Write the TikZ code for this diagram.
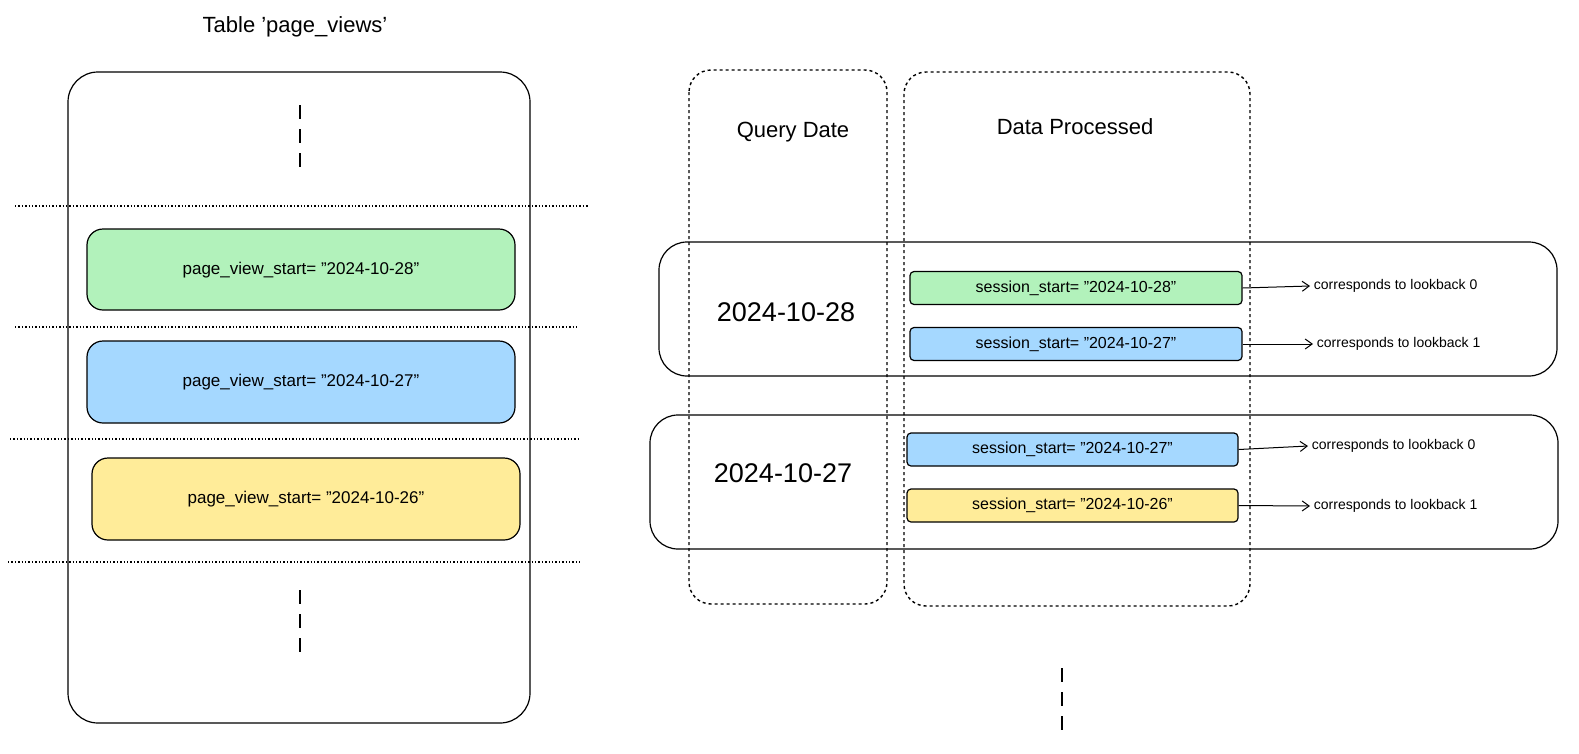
\documentclass[tikz,border=0pt]{standalone}
\usepackage{fontspec}
\setmainfont{Liberation Sans}
\usetikzlibrary{arrows.meta}
\definecolor{cg}{HTML}{B2F2BB}
\definecolor{cb}{HTML}{A5D8FF}
\definecolor{cy}{HTML}{FFEC99}
\begin{document}
\begin{tikzpicture}[x=1pt,y=-1pt,line width=1.2pt,
 bigbox/.style={draw,rounded corners=16pt,fill=#1,font=\fontsize{17}{20}\selectfont},
 smallbox/.style={draw,rounded corners=4pt,fill=#1,font=\fontsize{16}{19}\selectfont},
 dbox/.style={draw,dashed,rounded corners=22pt,line width=1.4pt},
 grp/.style={draw,rounded corners=28pt},
 dot/.style={dotted,line width=1.4pt},
 lbl/.style={font=\fontsize{14}{16}\selectfont,anchor=west},
 arr/.style={-{Straight Barb[length=7pt,width=10pt]},line width=1pt}]
\useasboundingbox (0,0) rectangle (1579,753);
\node[font=\fontsize{22}{26}\selectfont] (title) at (295,27) {Table 'page\_views'};
\draw[rounded corners=30pt] (68,72) rectangle (530,723);
\draw[dashed,line width=1.4pt,dash pattern=on 14pt off 10pt] (300,105) -- (300,170);
\draw[dashed,line width=1.4pt,dash pattern=on 14pt off 10pt] (300,590) -- (300,655);
\draw[dot] (15,206) -- (588,206);
\draw[dot] (15,327) -- (577,327);
\draw[dot] (10,439) -- (580,439);
\draw[dot] (8,562) -- (580,562);
\path[bigbox=cg] (87,229) rectangle (515,310);
\node[font=\fontsize{17}{20}\selectfont] (p1) at (301,270) {page\_view\_start= "2024-10-28"};
\path[bigbox=cb] (87,341) rectangle (515,423);
\node[font=\fontsize{17}{20}\selectfont] (p2) at (301,382) {page\_view\_start= "2024-10-27"};
\path[bigbox=cy] (92,458) rectangle (520,540);
\node[font=\fontsize{17}{20}\selectfont] (p3) at (306,499) {page\_view\_start= "2024-10-26"};
\draw[dbox] (689,70) rectangle (887,604);
\node[font=\fontsize{22}{26}\selectfont] (qd) at (793,132) {Query Date};
\draw[dbox] (904,72) rectangle (1250,606);
\node[font=\fontsize{22}{26}\selectfont] (dp) at (1075,127) {Data Processed};
\draw[grp] (659,242) rectangle (1557,376);
\draw[grp] (650,415) rectangle (1558,549);
\node[font=\fontsize{27}{32}\selectfont] (d1) at (786,312) {2024-10-28};
\node[font=\fontsize{27}{32}\selectfont] (d2) at (783,473) {2024-10-27};
\node[smallbox=cg,minimum width=332pt,minimum height=33pt] (s1) at (1076,288) {session\_start= "2024-10-28"};
\node[smallbox=cb,minimum width=332pt,minimum height=33pt] (s2) at (1076,344) {session\_start= "2024-10-27"};
\node[smallbox=cb,minimum width=331pt,minimum height=33pt] (s3) at (1072.5,449.5) {session\_start= "2024-10-27"};
\node[smallbox=cy,minimum width=331pt,minimum height=33pt] (s4) at (1072.5,505.5) {session\_start= "2024-10-26"};
\node[lbl] (l1) at (1310,286) {corresponds to lookback 0};
\node[lbl] (l2) at (1313,344) {corresponds to lookback 1};
\node[lbl] (l3) at (1308,446) {corresponds to lookback 0};
\node[lbl] (l4) at (1310,506) {corresponds to lookback 1};
\draw[arr] (s1.east) -- (l1.west);
\draw[arr] (s2.east) -- (l2.west);
\draw[arr] (s3.east) -- (l3.west);
\draw[arr] (s4.east) -- (l4.west);
\draw[dashed,line width=1.4pt,dash pattern=on 14pt off 10pt] (1062,668) -- (1062,733);
\end{tikzpicture}
\end{document}
